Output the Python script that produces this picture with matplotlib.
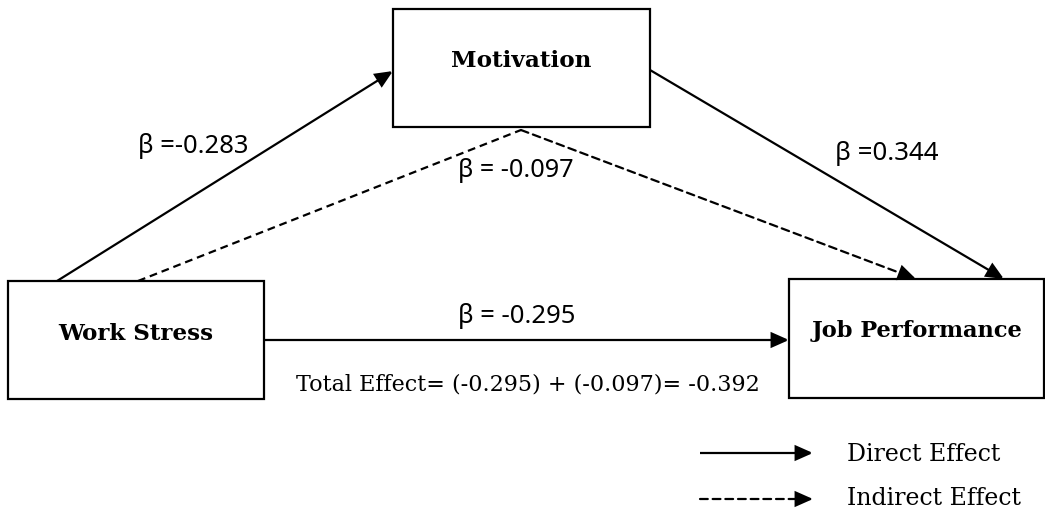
import matplotlib
matplotlib.use("Agg")
import matplotlib.pyplot as plt
from matplotlib.patches import Rectangle, FancyArrowPatch
import numpy as np

# ---- data ----
node_names = ["Work Stress", "Motivation", "Job Performance"]
path_names = ["Work Stress -> Motivation", "Motivation -> Job Performance",
              "Work Stress -> Job Performance", "Indirect"]
path_betas = [-0.283, 0.344, -0.295, -0.097]
path_texts = ["β =-0.283", "β =0.344", "β = -0.295", "β = -0.097"]
total_effect_text = "Total Effect= (-0.295) + (-0.097)= -0.392"
legend_labels = ["Direct Effect", "Indirect Effect"]

# ---- layout (pixel space) ----
W, H = 1045, 512
fig = plt.figure(figsize=(W / 100, H / 100), dpi=100)
ax = fig.add_axes([0, 0, 1, 1])
ax.set_xlim(0, W)
ax.set_ylim(H, 0)
ax.axis("off")
renderer = fig.canvas.get_renderer()

LW = 1.6
SERIF = ["DejaVu Serif"]
SANS = ["Noto Sans", "DejaVu Sans"]


def fit_text(x, y, s, width, ha="center", **kw):
    t = ax.text(x, y, s, ha=ha, va="baseline", fontsize=10, **kw)
    w = t.get_window_extent(renderer).width
    t.set_fontsize(10 * width / w)
    return t


boxes = {
    "Work Stress": (8, 281, 256, 118),
    "Motivation": (393, 9, 257, 118),
    "Job Performance": (789, 279, 255, 119),
}
# label center x, baseline y, width
box_label_geom = {
    "Work Stress": (135.5, 340, 155),
    "Motivation": (521.5, 67, 141),
    "Job Performance": (917, 337, 212),
}

for name in node_names:
    x, y, w, h = boxes[name]
    ax.add_patch(Rectangle((x, y), w, h, fill=False, ec="black", lw=LW))
    cx, by, tw = box_label_geom[name]
    fit_text(cx, by, name, tw, family=SERIF, fontweight="bold")

HEAD = "-|>,head_length=0.7,head_width=0.31"
MS = 15
HEAD_PX = 0.7 * MS * 100 / 72
DASH = (0, (3.5, 2.2))


def arrow(p0, p1, ls="-", head=True):
    p0 = np.asarray(p0, float)
    p1 = np.asarray(p1, float)
    if ls == "-" or not head:
        a = FancyArrowPatch(p0, p1, arrowstyle=HEAD if head else "-",
                            mutation_scale=MS, lw=LW, color="black",
                            linestyle=ls, shrinkA=0, shrinkB=0,
                            joinstyle="miter", capstyle="butt")
        ax.add_patch(a)
        return
    # dashed shaft + solid head
    u = (p1 - p0) / np.linalg.norm(p1 - p0)
    base = p1 - u * HEAD_PX
    ax.add_patch(FancyArrowPatch(p0, base, arrowstyle="-", lw=LW,
                                 color="black", linestyle=ls,
                                 shrinkA=0, shrinkB=0))
    ax.add_patch(FancyArrowPatch(base, p1, arrowstyle=HEAD, mutation_scale=MS,
                                 lw=LW, color="black", shrinkA=0, shrinkB=0,
                                 joinstyle="miter"))


# direct paths
arrow((57, 281), (393, 71))
arrow((650, 70), (1004, 279))
arrow((264, 340), (789, 340))
# indirect path
arrow((138, 281), (521, 130), ls=DASH, head=False)
arrow((521, 130), (916, 279), ls=DASH)

# path labels (center x, baseline y, width)
fit_text(193, 153, path_texts[0], 110, family=SANS)
fit_text(886.5, 160, path_texts[1], 103, family=SANS)
fit_text(516.5, 323, path_texts[2], 117, family=SANS)
fit_text(515.5, 177, path_texts[3], 115, family=SANS)
fit_text(527.5, 390, total_effect_text, 461, family=SERIF)

# legend
arrow((700, 453), (813, 453))
arrow((700, 499), (813, 499), ls=DASH)
t1 = fit_text(847, 461, legend_labels[0], 150, ha="left", family=SERIF)
t2 = fit_text(847, 505, legend_labels[1], 178, ha="left", family=SERIF)
common = (t1.get_fontsize() + t2.get_fontsize()) / 2
t1.set_fontsize(common)
t2.set_fontsize(common)

fig.savefig("out.png", dpi=100, facecolor="white")
